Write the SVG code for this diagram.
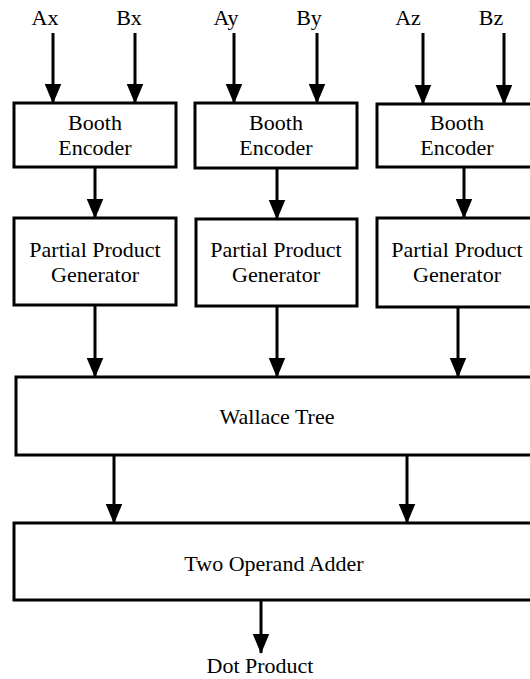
<svg xmlns="http://www.w3.org/2000/svg" width="530" height="679" viewBox="0 0 530 679">
<style>
.box{fill:#fff;stroke:#000;stroke-width:3}
.t{font-family:"Liberation Serif","Times New Roman",serif;font-size:22px;fill:#000;text-anchor:middle}
.c line{stroke:#000;stroke-width:3;marker-end:url(#ah)}
</style>
<defs>
<marker id="ah" markerUnits="userSpaceOnUse" markerWidth="20" markerHeight="24" refX="23" refY="10" orient="auto" viewBox="0 0 24 20">
<path d="M0,0 L24,10 L0,20 Z" fill="#000"/>
</marker>
</defs>
<rect width="530" height="679" fill="#fff"/>
<g id="labels">
<text class="t" x="45" y="25">Ax</text>
<text class="t" x="129" y="25">Bx</text>
<text class="t" x="226" y="25">Ay</text>
<text class="t" x="309" y="25">By</text>
<text class="t" x="408" y="25">Az</text>
<text class="t" x="491" y="25">Bz</text>
</g>
<g id="be1"><rect class="box" x="14" y="103" width="162" height="64"/><text class="t" x="95" y="130">Booth</text><text class="t" x="95" y="155">Encoder</text></g>
<g id="be2"><rect class="box" x="195" y="103" width="162" height="65"/><text class="t" x="276" y="130">Booth</text><text class="t" x="276" y="155">Encoder</text></g>
<g id="be3"><rect class="box" x="377" y="104" width="190" height="63"/><text class="t" x="457" y="130">Booth</text><text class="t" x="457" y="155">Encoder</text></g>
<g id="ppg1"><rect class="box" x="14" y="218" width="162" height="87"/><text class="t" x="95" y="257">Partial Product</text><text class="t" x="95" y="282">Generator</text></g>
<g id="ppg2"><rect class="box" x="196" y="219" width="161" height="87"/><text class="t" x="276" y="257">Partial Product</text><text class="t" x="276" y="282">Generator</text></g>
<g id="ppg3"><rect class="box" x="377" y="218" width="190" height="89"/><text class="t" x="457" y="257">Partial Product</text><text class="t" x="457" y="282">Generator</text></g>
<g id="wallace"><rect class="box" x="16" y="377" width="560" height="78"/><text class="t" x="277" y="424">Wallace Tree</text></g>
<g id="adder"><rect class="box" x="14" y="523" width="560" height="77"/><text class="t" x="274" y="571">Two Operand Adder</text></g>
<g id="out"><text class="t" x="260" y="673">Dot Product</text></g>
<g id="connectors" class="c">
<line x1="53" y1="33" x2="53" y2="103"/>
<line x1="135" y1="33" x2="135" y2="103"/>
<line x1="234" y1="33" x2="234" y2="103"/>
<line x1="317" y1="33" x2="317" y2="103"/>
<line x1="423" y1="33" x2="423" y2="104"/>
<line x1="504" y1="33" x2="504" y2="104"/>
<line x1="95" y1="167" x2="95" y2="218"/>
<line x1="277" y1="168" x2="277" y2="219"/>
<line x1="464" y1="167" x2="464" y2="218"/>
<line x1="95" y1="305" x2="95" y2="377"/>
<line x1="277" y1="306" x2="277" y2="377"/>
<line x1="458" y1="307" x2="458" y2="377"/>
<line x1="114" y1="455" x2="114" y2="523"/>
<line x1="407" y1="455" x2="407" y2="523"/>
<line x1="261" y1="600" x2="261" y2="653"/>
</g>
</svg>
